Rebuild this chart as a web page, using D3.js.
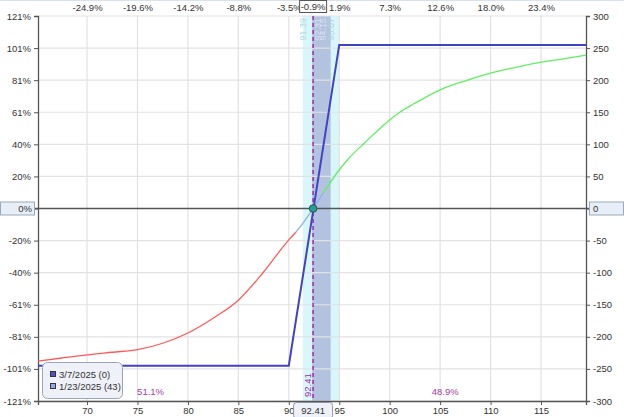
<!DOCTYPE html>
<html><head><meta charset="utf-8">
<script src="https://cdn.jsdelivr.net/npm/d3@7"></script>
<style>
html,body{margin:0;padding:0;background:#fff;}
svg{display:block;font-family:"Liberation Sans",Arial,sans-serif;}
</style></head>
<body><svg id="c" width="624" height="417"></svg>
<script>
// ---- data ----
const xTicks = [70,75,80,85,90,95,100,105,110,115];
const topTickLabels = ["-24.9%","-19.6%","-14.2%","-8.8%","-3.5%","1.9%","7.3%","12.6%","18.0%","23.4%"];
const rightTicks = [300,250,200,150,100,50,0,-50,-100,-150,-200,-250,-300];
const leftTickLabels = ["121%","101%","81%","61%","40%","20%","0%","-20%","-40%","-61%","-81%","-101%","-121%"];
const expiryX = [65.14,90,95,119.46];
const expiryPL = [-245,-245,255,255];
const todayX = [65.14,67.5,70,72.5,75,77.5,80,82.5,85,87.5,90,90.7,91.5,92.41,93.4,95,96,97.5,100,101,102.5,105,107.5,110,112.5,115,117.5,119.46];
const todayPL = [-238,-233,-228,-224,-220,-210,-194,-171,-143,-99,-49,-37,-21,0,24,60,79,102,138,150,164,185,199,211,220,228,234,239];
const currentPrice = 92.41;
const currentPctLabel = "-0.9%";
const outerBand = [91.39,95.07];
const innerBand = [92.31,94.15];
const bandLabels = ["91.39","92.31","94.15","95.07"];
const probLeft = "51.1%", probRight = "48.9%";
const legendLabels = ["3/7/2025 (0)","1/23/2025 (43)"];

// ---- layout ----
const L=38,R=586,T=16,B=401;
const svg=d3.select("#c");
const x=d3.scaleLinear().domain([65.14,119.46]).range([L,R]);
const y=d3.scaleLinear().domain([-300,300]).range([B,T]);

// top frame line
svg.append("rect").attr("x",0).attr("y",0).attr("width",624).attr("height",1).attr("fill","#d6e2f0");

// bands
svg.append("rect").attr("x",x(outerBand[0])).attr("y",T).attr("width",x(outerBand[1])-x(outerBand[0])).attr("height",B-T).attr("fill","#d9f7fb");
svg.append("rect").attr("x",x(innerBand[0])).attr("y",T).attr("width",x(innerBand[1])-x(innerBand[0])).attr("height",B-T).attr("fill","#b3c3df");

// grid
const g=svg.append("g");
g.selectAll("line.vx").data(xTicks).join("line").attr("x1",d=>x(d)).attr("x2",d=>x(d)).attr("y1",T).attr("y2",B).attr("stroke","#e2e2e2").attr("stroke-width",1.2);
g.selectAll("line.hy").data(rightTicks).join("line").attr("x1",L).attr("x2",R).attr("y1",d=>y(d)).attr("y2",d=>y(d)).attr("stroke","#e2e2e2").attr("stroke-width",1.2);

// axes
const axL=svg.append("g").attr("transform",`translate(${L},0)`).call(d3.axisLeft(y).tickValues(rightTicks).tickSize(4).tickFormat((d,i)=>leftTickLabels[i]));
const axR=svg.append("g").attr("transform",`translate(${R},0)`).call(d3.axisRight(y).tickValues(rightTicks).tickSize(4).tickFormat(d=>d));
const axB=svg.append("g").attr("transform",`translate(0,${B})`).call(d3.axisBottom(x).tickValues(xTicks).tickSize(4).tickPadding(2));
const axT=svg.append("g").attr("transform",`translate(0,${T})`).call(d3.axisTop(x).tickValues(xTicks).tickSize(0).tickPadding(5).tickFormat((d,i)=>topTickLabels[i]));
[axL,axR,axB,axT].forEach(a=>{
  a.selectAll("text").attr("font-size",9.5).attr("fill","#333").attr("font-family","Liberation Sans, Arial, sans-serif");
  a.selectAll("line").attr("stroke","#555");
  a.select(".domain").attr("stroke","#555").attr("stroke-width",1.3);
});
axT.select(".domain").remove();
axL.selectAll(".tick").filter(d=>d===0).select("text").attr("opacity",0);
axR.selectAll(".tick").filter(d=>d===0).select("text").attr("opacity",0);

// zero line
svg.append("line").attr("x1",0).attr("x2",624).attr("y1",y(0)).attr("y2",y(0)).attr("stroke","#555").attr("stroke-width",1.3);

// band labels (vertical)
const bandPos=[outerBand[0],innerBand[0],innerBand[1],outerBand[1]];
const bandOff=[3,8.5,-4.3,-6.2];
const bandCol=["#a9d6e6","#d6e0f0","#d6e0f0","#b4cce2"];
svg.selectAll("text.bl").data(bandLabels).join("text")
  .attr("transform",(d,i)=>`translate(${x(bandPos[i])+bandOff[i]},${T+2}) rotate(-90)`)
  .attr("text-anchor","end").attr("font-size",9).attr("fill",(d,i)=>bandCol[i]).text(d=>d);

// current price dashed line
svg.append("line").attr("x1",x(currentPrice)).attr("x2",x(currentPrice)).attr("y1",T).attr("y2",B)
  .attr("stroke","#a22aa8").attr("stroke-width",1.5).attr("stroke-dasharray","4,3");

// today curve split by color
const pts=todayX.map((v,i)=>[v,todayPL[i]]);
const line=d3.line().x(d=>x(d[0])).y(d=>y(d[1]));
const sline=d3.line().x(d=>x(d[0])).y(d=>y(d[1])).curve(d3.curveMonotoneX);
const seg=(a,b)=>pts.filter(p=>p[0]>=a&&p[0]<=b);
svg.append("path").attr("d",sline(seg(60,90.7))).attr("fill","none").attr("stroke","#ff5a5a").attr("stroke-width",1.3);
svg.append("path").attr("d",sline(seg(90.7,93.4))).attr("fill","none").attr("stroke","#8fb2ee").attr("stroke-width",1.3);
svg.append("path").attr("d",sline(seg(93.4,125))).attr("fill","none").attr("stroke","#5ef05e").attr("stroke-width",1.3);

// expiry line
const ep=expiryX.map((v,i)=>[v,expiryPL[i]]);
svg.append("path").attr("d",line(ep)).attr("fill","none").attr("stroke","#4242c6").attr("stroke-width",2);

// dot
svg.append("circle").attr("cx",x(currentPrice)).attr("cy",y(0)).attr("r",3.8).attr("fill","#2c9a9a").attr("stroke","#2a5050").attr("stroke-width",1);

// zero boxes
svg.append("rect").attr("x",0.5).attr("y",y(0)-6.5).attr("width",34).attr("height",13).attr("fill","#e8eef8").attr("stroke","#9aa8bc");
svg.append("text").attr("x",32).attr("y",y(0)+3.5).attr("text-anchor","end").attr("font-size",9.5).attr("fill","#333").text(leftTickLabels[6]);
svg.append("rect").attr("x",589.5).attr("y",y(0)-6.5).attr("width",34).attr("height",13).attr("fill","#e8eef8").attr("stroke","#9aa8bc");
svg.append("text").attr("x",593).attr("y",y(0)+3.5).attr("font-size",9.5).attr("fill","#333").text(rightTicks[6]);

// top current pct box
svg.append("rect").attr("x",x(currentPrice)-13.5).attr("y",0.5).attr("width",27).attr("height",12).attr("fill","#fff").attr("stroke","#555");
svg.append("text").attr("x",x(currentPrice)).attr("y",10).attr("text-anchor","middle").attr("font-size",9.5).attr("fill","#333").text(currentPctLabel);

// bottom current price box
svg.append("rect").attr("x",x(currentPrice)-19.5).attr("y",402.5).attr("width",39).attr("height",16).attr("rx",3).attr("fill","#eef2f8").attr("stroke","#8a96a8");
svg.append("text").attr("x",x(currentPrice)).attr("y",414).attr("text-anchor","middle").attr("font-size",9.5).attr("fill","#333").text(currentPrice.toFixed(2));
// vertical current price label
svg.append("text").attr("transform",`translate(${x(currentPrice)-2},${B-4}) rotate(-90)`).attr("font-size",9.5).attr("fill","#a22aa8").text(currentPrice.toFixed(2));

// probability labels
svg.append("text").attr("x",x(76.3)).attr("y",395).attr("text-anchor","middle").attr("font-size",9.5).attr("fill","#a83aa8").text(probLeft);
svg.append("text").attr("x",x(105.5)).attr("y",395).attr("text-anchor","middle").attr("font-size",9.5).attr("fill","#a83aa8").text(probRight);

// legend
const lg=svg.append("g");
lg.append("rect").attr("x",42.5).attr("y",362.5).attr("width",80).attr("height",36).attr("rx",5).attr("fill","#eef2f8").attr("stroke","#9aa6b8");
const lcol=["#5050c4","#92aae4"];
legendLabels.forEach((t,i)=>{
  lg.append("rect").attr("x",50.5).attr("y",371.5+i*12).attr("width",5).attr("height",5).attr("fill",lcol[i]).attr("stroke","#334");
  lg.append("text").attr("x",59).attr("y",378+i*12).attr("font-size",9.5).attr("fill","#333").text(t);
});
</script></body></html>
